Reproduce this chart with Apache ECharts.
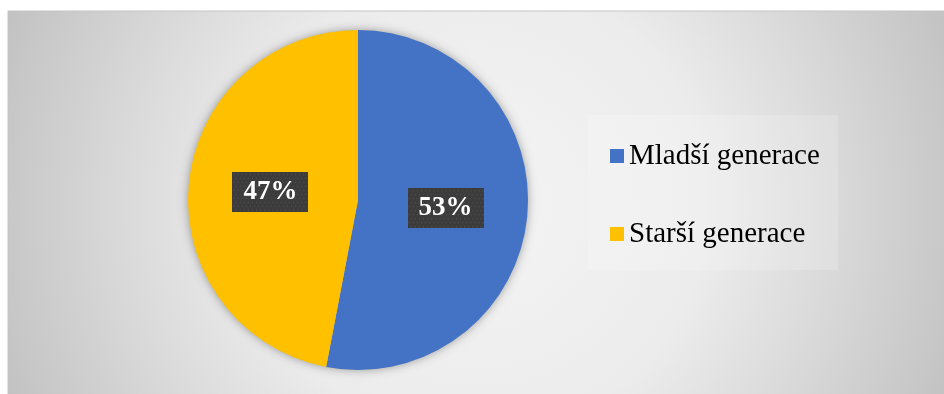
<!DOCTYPE html>
<html>
<head>
<meta charset="utf-8">
<style>
html,body{margin:0;padding:0;background:#fff;}
#chart{width:944px;height:394px;}
</style>
<script src="https://cdn.jsdelivr.net/npm/echarts@6/dist/echarts.min.js"></script>
</head>
<body>
<div id="chart"></div>
<script>
var categories = ['Mladší generace', 'Starší generace'];
var values = [53, 47];
var colors = ['#4472C4', '#FFC000'];

var SERIF = 'Liberation Serif';

function dotPattern(w, h) {
  var c = document.createElement('canvas');
  c.width = w; c.height = h;
  var ctx = c.getContext('2d');
  ctx.fillStyle = '#3c3c3c';
  ctx.fillRect(0, 0, w, h);
  ctx.fillStyle = '#555555';
  for (var y = 2; y < h; y += 4) {
    for (var x = (y % 8 === 2 ? 1 : 3); x < w; x += 4) {
      ctx.fillRect(x, y, 1, 1);
    }
  }
  return c;
}
var pattern = dotPattern(74, 40);

var chart = echarts.init(document.getElementById('chart'), null, {renderer: 'canvas'});
var option = {
  animation: false,
  backgroundColor: '#ffffff',
  textStyle: {fontFamily: SERIF},
  graphic: [
    {
      type: 'rect', z: -10, silent: true,
      shape: {x: 8, y: 11, width: 940, height: 390},
      style: {
        fill: {
          type: 'radial', x: 0.5, y: 0.5, r: 1.3,
          colorStops: [
            {offset: 0, color: '#f4f4f4'},
            {offset: 0.45, color: '#ececec'},
            {offset: 0.72, color: '#d8d8d8'},
            {offset: 1, color: '#c2c2c2'}
          ]
        },
        stroke: '#c4c4c4', lineWidth: 1
      }
    },
    {
      type: 'rect', z: -9, silent: true,
      shape: {x: 588, y: 115, width: 250, height: 155},
      style: {fill: 'rgba(255,255,255,0.18)'}
    }
  ],
  legend: {
    orient: 'vertical',
    left: 605,
    top: 136,
    icon: 'rect',
    itemWidth: 14,
    itemHeight: 14,
    itemGap: 48,
    data: categories,
    textStyle: {
      fontFamily: SERIF,
      fontSize: 29,
      lineHeight: 30,
      color: '#000000'
    }
  },
  series: [
    {
      type: 'pie',
      silent: true,
      z: 1,
      center: [358, 200],
      radius: 170,
      legendHoverLink: false,
      label: {show: false},
      labelLine: {show: false},
      itemStyle: {
        color: '#bbbbbb',
        shadowBlur: 10,
        shadowColor: 'rgba(0,0,0,0.35)'
      },
      data: [{value: 1, name: '__shadow'}]
    },
    {
      type: 'pie',
      z: 2,
      center: [358, 200],
      radius: 170,
      startAngle: 90,
      clockwise: true,
      data: categories.map(function (n, i) {
        return {name: n, value: values[i], itemStyle: {color: colors[i]}};
      }),
      label: {
        show: true,
        position: 'inside',
        formatter: '{c}%',
        fontFamily: SERIF,
        fontWeight: 'bold',
        fontSize: 27,
        lineHeight: 26,
        color: '#ffffff',
        backgroundColor: {image: pattern},
        padding: [7, 11],
        shadowBlur: 6,
        shadowOffsetX: 3,
        shadowOffsetY: 4,
        shadowColor: 'rgba(0,0,0,0.5)'
      },
      labelLine: {show: false},
      emphasis: {disabled: true}
    }
  ]
};
chart.setOption(option);
</script>
</body>
</html>
